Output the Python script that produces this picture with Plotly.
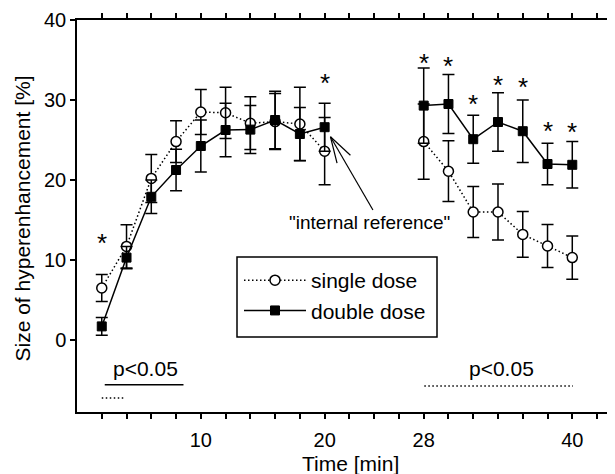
import plotly.graph_objects as go

# ---- data ----
times = [2, 4, 6, 8, 10, 12, 14, 16, 18, 20, 28, 30, 32, 34, 36, 38, 40]
single_dose = [6.5, 11.7, 20.2, 24.8, 28.5, 28.4, 27.1, 27.3, 27.0, 23.6,
               24.8, 21.1, 16.0, 16.0, 13.2, 11.75, 10.3]
single_err = [1.7, 2.7, 3.0, 2.6, 2.8, 3.2, 3.3, 3.5, 4.6, 4.2,
              4.7, 3.8, 3.2, 3.5, 2.85, 2.7, 2.7]
double_dose = [1.7, 10.3, 17.9, 21.25, 24.25, 26.25, 26.3, 27.5, 25.75, 26.6,
               29.3, 29.5, 25.1, 27.25, 26.1, 22.0, 21.9]
double_err = [1.1, 1.4, 2.1, 2.6, 3.25, 3.35, 3.0, 3.6, 3.3, 3.0,
              4.7, 3.7, 3.0, 3.65, 3.9, 2.6, 2.9]
gap_after = 20  # no recordings between 20 and 28 min

star_x = [2, 20, 28, 30, 32, 34, 36, 38, 40]
star_y = [12.9, 32.9, 35.4, 35.0, 30.3, 32.6, 32.4, 26.9, 26.75]

tick_vals = list(range(2, 43, 2))
tick_labels = {10: "10", 20: "20", 28: "28", 40: "40"}

FONT = "Liberation Sans, Arial, sans-serif"


def with_gap(xs, *cols):
    out_x, out_cols = [], [[] for _ in cols]
    for i, x in enumerate(xs):
        if i > 0 and xs[i - 1] <= gap_after < x:
            out_x.append(None)
            for c in out_cols:
                c.append(None)
        out_x.append(x)
        for c, src in zip(out_cols, cols):
            c.append(src[i])
    return out_x, out_cols


xs, (ys1, es1) = with_gap(times, single_dose, single_err)
_, (ys2, es2) = with_gap(times, double_dose, double_err)

fig = go.Figure()
fig.add_trace(go.Scatter(
    x=xs, y=ys1, name="single dose", mode="lines+markers",
    line=dict(color="black", width=1.5, dash="1.5px,2.5px"),
    marker=dict(symbol="circle", size=10, color="white",
                line=dict(color="black", width=1.5)),
    error_y=dict(type="data", array=es1, color="black", thickness=1.5, width=6),
    connectgaps=False,
))
fig.add_trace(go.Scatter(
    x=xs, y=ys2, name="double dose", mode="lines+markers",
    line=dict(color="black", width=1.5),
    marker=dict(symbol="square", size=9, color="black",
                line=dict(color="black", width=1)),
    error_y=dict(type="data", array=es2, color="black", thickness=1.5, width=6),
    connectgaps=False,
))

# significance asterisks
for sx, sy in zip(star_x, star_y):
    fig.add_annotation(x=sx, y=sy, text="*", showarrow=False,
                       font=dict(family=FONT, size=26, color="black"),
                       xanchor="center", yanchor="middle", yshift=-6)

# "internal reference" annotation with open arrow
fig.add_annotation(x=23.6, y=14.7, text='"internal reference"', showarrow=False,
                   font=dict(family=FONT, size=19, color="black"))
arrow_lines = [
    (20.47, 25.4, 23.9, 16.25),
    (20.47, 25.4, 22.08, 23.1),
    (20.47, 25.4, 21.0, 22.1),
]
for x0, y0, x1, y1 in arrow_lines:
    fig.add_shape(type="line", x0=x0, y0=y0, x1=x1, y1=y1,
                  line=dict(color="black", width=1.2))

# p<0.05 markers
fig.add_annotation(x=5.5, y=-3.6, text="p<0.05", showarrow=False,
                   font=dict(family=FONT, size=21, color="black"))
fig.add_annotation(x=34.3, y=-3.6, text="p<0.05", showarrow=False,
                   font=dict(family=FONT, size=21, color="black"))
fig.add_shape(type="line", x0=2.24, y0=-5.6, x1=8.6, y1=-5.6,
              line=dict(color="black", width=1.5))
fig.add_shape(type="line", x0=2.0, y0=-7.25, x1=3.85, y1=-7.25,
              line=dict(color="black", width=1.5, dash="1.5px,2.5px"))
fig.add_shape(type="line", x0=28.05, y0=-5.75, x1=40.06, y1=-5.75,
              line=dict(color="black", width=1.5, dash="1.5px,2.5px"))

# legend frame (plot area spans 538 x 392 px)
fig.add_shape(type="rect", xref="paper", yref="paper",
              x0=160 / 538, x1=360 / 538, y0=75 / 392, y1=155 / 392,
              line=dict(color="black", width=1.5), fillcolor="white",
              layer="below")

# axis titles
fig.add_annotation(xref="paper", yref="paper", x=-0.1004, y=0.4936,
                   text="Size of hyperenhancement [%]", textangle=-90,
                   showarrow=False, font=dict(family=FONT, size=21, color="black"),
                   xanchor="center", yanchor="middle")
fig.add_annotation(xref="paper", yref="paper", x=0.509, y=-0.132,
                   text="Time [min]", showarrow=False,
                   font=dict(family=FONT, size=21, color="black"),
                   xanchor="center", yanchor="middle")

# page body has an 8px margin: figure is 8px smaller and margins reduced
fig.update_layout(
    width=607, height=466,
    margin=dict(l=69, r=0, t=12, b=62),
    paper_bgcolor="white", plot_bgcolor="white",
    font=dict(family=FONT, size=20, color="black"),
    showlegend=True,
    legend=dict(x=162 / 538, y=152 / 392, xanchor="left", yanchor="top",
                borderwidth=0, bgcolor="rgba(0,0,0,0)",
                font=dict(family=FONT, size=21, color="black"),
                itemwidth=62, tracegroupgap=4),
    xaxis=dict(
        range=[0, 43.45], showgrid=False, zeroline=False,
        tickmode="array", tickvals=tick_vals,
        ticktext=[tick_labels.get(v, "") for v in tick_vals],
        ticks="outside", ticklen=5, tickwidth=1.5, tickcolor="black",
        showline=True, linecolor="black", linewidth=1.5, mirror="ticks",
        ticklabelstandoff=4,
        tickfont=dict(family=FONT, size=20, color="black"),
    ),
    yaxis=dict(
        range=[-9, 40], showgrid=False, zeroline=False,
        tickvals=[0, 10, 20, 30, 40],
        ticks="outside", ticklen=5, tickwidth=1.5, tickcolor="black",
        showline=True, linecolor="black", linewidth=1.5,
        ticklabelstandoff=0,
        tickfont=dict(family=FONT, size=20, color="black"),
    ),
)

fig.write_html("out.html")
